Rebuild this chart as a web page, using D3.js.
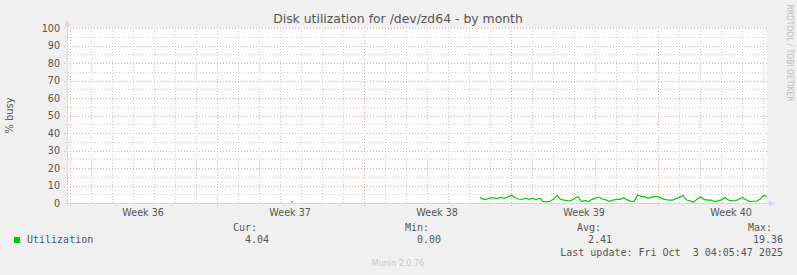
<!DOCTYPE html>
<html>
<head>
<meta charset="utf-8">
<script src="https://cdn.jsdelivr.net/npm/d3@7"></script>
<style>
  body { margin: 0; background: #f0f0f0; }
  svg { display: block; }
  text { white-space: pre; }
</style>
</head>
<body>
<svg id="chart" width="797" height="275"></svg>
<script>
// utilization samples, 4 hour steps starting at dataStart
const dataStart = "2025-09-19T13:00:00Z"
const stepHours = 4
const utilization = [
  3.2, 2.1, 2.2, 3.0, 2.9, 2.6, 3.2, 2.6, 3.6, 4.4,
  3.0, 2.3, 2.0, 2.7, 2.1, 2.7, 1.9, 2.8, 0.9, 0.6,
  1.0, 2.1, 4.4, 2.1, 1.6, 1.3, 1.4, 2.7, 3.6, 0.8,
  1.5, 0.8, 2.1, 2.8, 3.4, 2.3, 1.8, 0.9, 1.6, 2.1,
  2.1, 3.0, 1.8, 1.1, 0.8, 4.6, 3.8, 3.6, 2.7, 3.4,
  3.6, 3.6, 2.5, 1.9, 1.7, 1.7, 2.5, 3.2, 4.3, 1.7,
  1.3, 0.4, 2.1, 3.6, 2.1, 1.7, 1.7, 0.8, 1.2, 1.8,
  3.1, 1.7, 1.2, 1.4, 2.1, 3.2, 1.8, 0.8, 1.0, 1.0,
  2.1, 4.5, 3.6
]
// lone early sample
const blipTimes = ["2025-09-10T13:00:00Z", "2025-09-10T15:00:00Z"]
const blipValues = [0.6, 0.6]

const yTicks = [0, 10, 20, 30, 40, 50, 60, 70, 80, 90, 100]
const yMinor = [5, 15, 25, 35, 45, 55, 65, 75, 85, 95]
const timeRange = ["2025-08-30T21:00:00Z", "2025-10-03T05:00:00Z"]

const legendHeads = ["Cur:", "Min:", "Avg:", "Max:"]
const legendValues = ["4.04", "0.00", "2.41", "19.36"]
const lastUpdate = "Last update: Fri Oct  3 04:05:47 2025"

const svg = d3.select("#chart")
const plotLeft = 67, plotRight = 767, plotTop = 28, plotBottom = 203
const axisColor = "#cfd6f8"
const majorColor = "#eba5a5"
const minorColor = "#cccccc"
const fontColor = "#555"

const x = d3.scaleUtc()
  .domain(timeRange.map(d => new Date(d)))
  .range([plotLeft, plotRight])
const y = d3.scaleLinear().domain([0, 100]).range([plotBottom, plotTop])

svg.append("rect")
  .attr("width", 797).attr("height", 275)
  .attr("fill", "#f0f0f0")

svg.append("rect")
  .attr("x", plotLeft).attr("y", plotTop)
  .attr("width", plotRight - plotLeft).attr("height", plotBottom - plotTop)
  .attr("fill", "#fff")

const grid = svg.append("g").attr("shape-rendering", "crispEdges")
const [t0, t1] = x.domain()
const days = d3.utcDay.range(t0, t1).filter(d => d.getUTCDay() !== 0)
const weeks = d3.utcSunday.range(t0, t1)

// minor grid
grid.selectAll(".vmin").data(days).join("line")
  .attr("x1", d => Math.round(x(d)) + 0.5).attr("x2", d => Math.round(x(d)) + 0.5)
  .attr("y1", plotTop).attr("y2", plotBottom + 2)
  .attr("stroke", minorColor).attr("stroke-dasharray", "1,2")
grid.selectAll(".hmin").data(yMinor).join("line")
  .attr("x1", plotLeft - 2).attr("x2", plotRight)
  .attr("y1", d => Math.round(y(d)) + 0.5).attr("y2", d => Math.round(y(d)) + 0.5)
  .attr("stroke", minorColor).attr("stroke-dasharray", "1,2")

// major grid
grid.selectAll(".vmaj").data(weeks).join("line")
  .attr("x1", d => Math.round(x(d)) + 0.5).attr("x2", d => Math.round(x(d)) + 0.5)
  .attr("y1", plotTop).attr("y2", plotBottom + 3)
  .attr("stroke", majorColor).attr("stroke-dasharray", "1,2")
grid.selectAll(".hmaj").data(yTicks.slice(1)).join("line")
  .attr("x1", plotLeft - 3).attr("x2", plotRight)
  .attr("y1", d => Math.round(y(d)) + 0.5).attr("y2", d => Math.round(y(d)) + 0.5)
  .attr("stroke", majorColor).attr("stroke-dasharray", "1,2")

// axes with arrows
svg.append("line")
  .attr("x1", plotLeft - 3).attr("x2", 772)
  .attr("y1", plotBottom + 0.5).attr("y2", plotBottom + 0.5)
  .attr("stroke", axisColor)
svg.append("line")
  .attr("x1", plotLeft + 0.5).attr("x2", plotLeft + 0.5)
  .attr("y1", plotBottom + 3).attr("y2", 23)
  .attr("stroke", axisColor)
svg.append("path")
  .attr("d", `M775,${plotBottom + 0.5}L769,${plotBottom - 2.5}L769,${plotBottom + 3.5}Z`)
  .attr("fill", axisColor)
svg.append("path")
  .attr("d", `M${plotLeft + 0.5},20L${plotLeft - 2.5},26L${plotLeft + 3.5},26Z`)
  .attr("fill", axisColor)

// y tick labels
svg.selectAll(".ylab").data(yTicks).join("text")
  .attr("x", 60).attr("y", d => y(d) + 3.5)
  .attr("text-anchor", "end")
  .attr("font-family", "DejaVu Sans").attr("font-size", 9.6)
  .attr("fill", fontColor)
  .text(d => d)

// week labels, centred in the week
const weekFmt = d3.utcFormat("%V")
const labelWeeks = d3.utcSunday.range(d3.utcDay.offset(t0, -7), t1)
  .map(d => new Date(+d + 3.5 * 864e5))
  .filter(d => x(d) > plotLeft && x(d) < plotRight)
svg.selectAll(".xlab").data(labelWeeks).join("text")
  .attr("x", d => x(d)).attr("y", 216)
  .attr("text-anchor", "middle")
  .attr("font-family", "DejaVu Sans").attr("font-size", 9.6)
  .attr("fill", fontColor)
  .text(d => "Week " + weekFmt(d))

// data line
const start = new Date(dataStart)
const points = utilization.map((v, i) => ({ date: new Date(+start + i * stepHours * 36e5), value: v }))
const blip = blipTimes.map((d, i) => ({ date: new Date(d), value: blipValues[i] }))
const line = d3.line().x(d => x(d.date)).y(d => y(d.value))
svg.append("path").datum(points)
  .attr("d", line).attr("fill", "none")
  .attr("stroke", "#00cc00").attr("stroke-width", 1.2)
svg.append("path").datum(blip)
  .attr("d", line).attr("fill", "none")
  .attr("stroke", "#00cc00").attr("stroke-width", 1.2)

// title
const title = svg.append("text")
  .attr("x", 398).attr("y", 22.5)
  .attr("text-anchor", "middle")
  .attr("font-family", "DejaVu Sans").attr("font-size", 11)
  .attr("fill", fontColor)
  .text("Disk utilization for /dev/zd64 - by month")
const tw = title.node().getComputedTextLength()
title.attr("font-size", 11 * 250 / tw)

// y axis title
svg.append("text")
  .attr("transform", "translate(13,115.5) rotate(-90)")
  .attr("text-anchor", "middle")
  .attr("font-family", "DejaVu Sans").attr("font-size", 10)
  .attr("fill", fontColor)
  .text("% busy")

// watermark
svg.append("text")
  .attr("transform", "translate(787,53) rotate(90)")
  .attr("text-anchor", "middle")
  .attr("font-family", "DejaVu Sans").attr("font-size", 8.5)
  .attr("textLength", 97).attr("lengthAdjust", "spacingAndGlyphs")
  .attr("fill", "#bbbbbb")
  .text("RRDTOOL / TOBI OETIKER")

// legend
svg.append("rect")
  .attr("x", 14).attr("y", 237).attr("width", 6).attr("height", 6)
  .attr("fill", "#00cc00")
const mono = "DejaVu Sans Mono"
svg.append("text")
  .attr("x", 27).attr("y", 243)
  .attr("font-family", mono).attr("font-size", 10).attr("fill", fontColor)
  .text("Utilization")

const headX = [233, 405, 577, 748]
const valEnd = [269, 441, 612, 783]
svg.selectAll(".head").data(legendHeads).join("text")
  .attr("x", (d, i) => headX[i]).attr("y", 231)
  .attr("font-family", mono).attr("font-size", 10).attr("fill", fontColor)
  .text(d => d)
svg.selectAll(".val").data(legendValues).join("text")
  .attr("x", (d, i) => valEnd[i]).attr("y", 243)
  .attr("text-anchor", "end")
  .attr("font-family", mono).attr("font-size", 10).attr("fill", fontColor)
  .text(d => d)
svg.append("text")
  .attr("x", 783).attr("y", 255.5)
  .attr("text-anchor", "end")
  .attr("font-family", mono).attr("font-size", 10).attr("fill", fontColor)
  .text(lastUpdate)

svg.append("text")
  .attr("x", 398).attr("y", 266)
  .attr("text-anchor", "middle")
  .attr("font-family", "DejaVu Sans").attr("font-size", 8)
  .attr("fill", "#c8c8c8")
  .text("Munin 2.0.76")
</script>
</body>
</html>
